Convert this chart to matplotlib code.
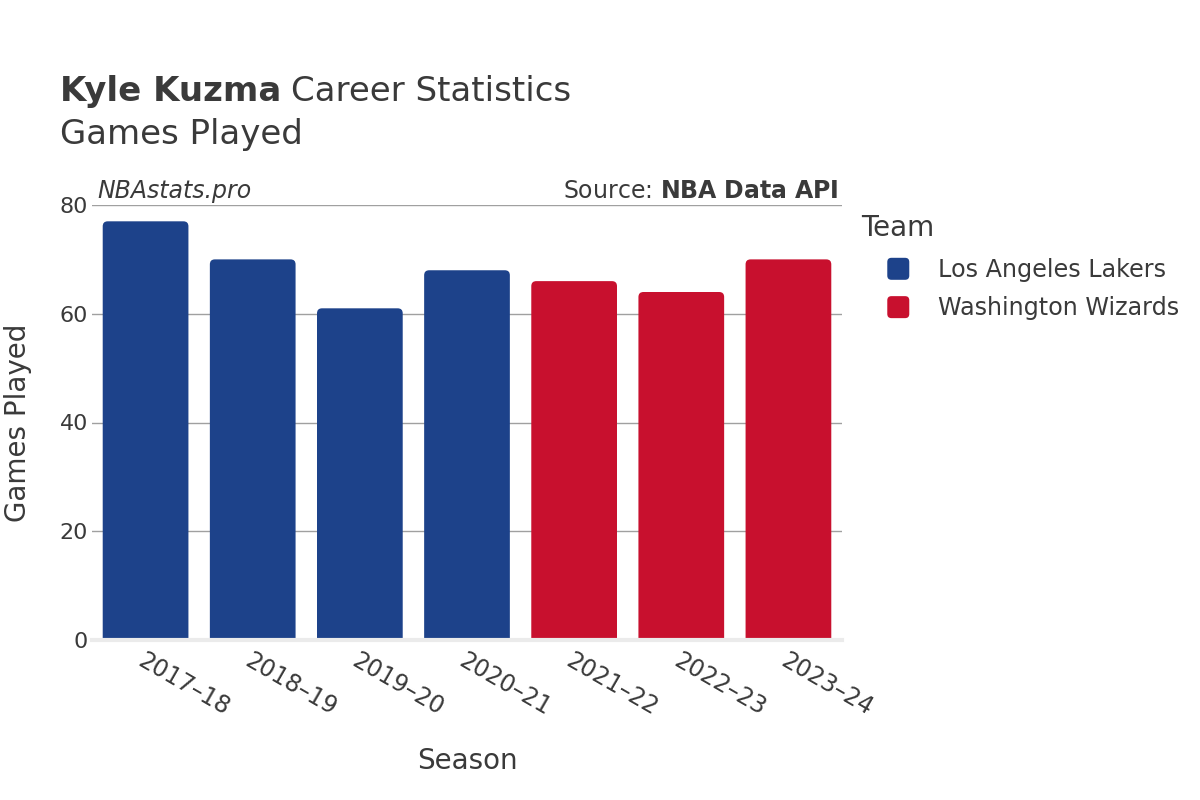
import matplotlib.pyplot as plt
from matplotlib.patches import FancyBboxPatch
from matplotlib.legend_handler import HandlerPatch
from matplotlib.patches import Patch

seasons = ["2017–18", "2018–19", "2019–20", "2020–21", "2021–22", "2022–23", "2023–24"]
games = [77, 70, 61, 68, 66, 64, 70]
teams = ["Los Angeles Lakers", "Los Angeles Lakers", "Los Angeles Lakers", "Los Angeles Lakers",
         "Washington Wizards", "Washington Wizards", "Washington Wizards"]
team_colors = {"Los Angeles Lakers": "#1D428A", "Washington Wizards": "#C8102E"}

text_col = "#3a3a3a"
plt.rcParams['font.family'] = ['DejaVu Sans']

fig = plt.figure(figsize=(12, 8), dpi=100)
ax_w, ax_h = 750, 435
ax = fig.add_axes([92 / 1200, 160 / 800, ax_w / 1200, ax_h / 800])

x = list(range(len(seasons)))
bars = ax.bar(x, games, width=0.8, color=[team_colors[t] for t in teams])

ax.set_xlim(-0.5, len(seasons) - 0.5)
ax.set_ylim(0, 80)

# swap plain bars for ones with rounded top corners
px_x = ax_w / len(seasons)   # pixels per x unit
px_y = ax_h / 80.0           # pixels per y unit
r_px = 5
rx = r_px / px_x
ry = r_px / px_y
for b in bars:
    bx, bw, bh = b.get_x(), b.get_width(), b.get_height()
    fc = b.get_facecolor()
    b.set_visible(False)
    p = FancyBboxPatch((bx, -ry), bw, bh + ry,
                       boxstyle=f"round,pad=0,rounding_size={rx}",
                       mutation_aspect=ry / rx, facecolor=fc,
                       edgecolor="none", zorder=2)
    ax.add_patch(p)

ax.set_yticks([0, 20, 40, 60, 80])
ax.yaxis.grid(True, color="#a0a0a0", linewidth=1, zorder=0)
ax.set_axisbelow(True)
ax.axhline(0, color="#ebebeb", linewidth=3, zorder=3, clip_on=False)
for s in ax.spines.values():
    s.set_visible(False)
ax.tick_params(axis="y", length=0, labelsize=16, labelcolor=text_col, pad=3)
ax.tick_params(axis="x", length=0, labelsize=17, labelcolor=text_col, pad=6)
ax.set_xticks(x)
ax.set_xticklabels(seasons, rotation=-30, ha="left", rotation_mode="anchor")

ax.set_xlabel("Season", fontsize=20, color=text_col)
ax.set_ylabel("Games Played", fontsize=20, color=text_col)
ax.xaxis.set_label_coords(0.5, -0.245)
ax.yaxis.set_label_coords(-0.08, 0.5)

# titles
fig.canvas.draw()
renderer = fig.canvas.get_renderer()
t1 = fig.text(60 / 1200, 1 - 101 / 800, "Kyle Kuzma", fontsize=24.5, fontweight="bold",
              color=text_col, va="baseline")
bb = t1.get_window_extent(renderer)
fig.text(bb.x1 / 1200 + 0.008, 1 - 101 / 800, "Career Statistics", fontsize=24.5,
         color=text_col, va="baseline")
fig.text(60 / 1200, 1 - 144 / 800, "Games Played", fontsize=24.5, color=text_col, va="baseline")

ax.text(0.007, 1.005, "NBAstats.pro", transform=ax.transAxes, fontsize=17, style="italic",
        color=text_col, ha="left", va="bottom")
ax.text(0.995, 1.005, "Source: $\\bf{NBA\\ Data\\ API}$", transform=ax.transAxes, fontsize=17,
        color=text_col, ha="right", va="bottom")


def rounded_handle(legend, orig_handle, xdescent, ydescent, width, height, fontsize):
    size = 22 * 72 / 100.0
    return FancyBboxPatch((-xdescent + width - size, -ydescent + (height - size) / 2), size, size,
                          boxstyle="round,pad=0,rounding_size=3")


handles = [Patch(facecolor=team_colors[t], label=t) for t in team_colors]
leg = ax.legend(handles=handles, title="Team", loc="upper left",
                bbox_to_anchor=(840 / 1200, 1 - 192 / 800), bbox_transform=fig.transFigure,
                frameon=False, fontsize=17.2, title_fontsize=20, alignment="left",
                handlelength=2.0, handleheight=0.7, handletextpad=1.2, labelspacing=0.6,
                handler_map={Patch: HandlerPatch(patch_func=rounded_handle)})
leg._legend_box.sep = 12
for txt in leg.get_texts():
    txt.set_color(text_col)
leg.get_title().set_color(text_col)

fig.savefig("out.png", dpi=100)
